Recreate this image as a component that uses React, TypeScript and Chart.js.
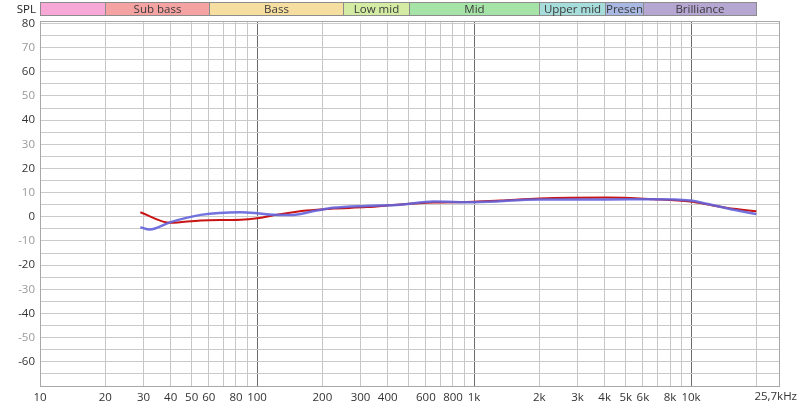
import React, { useEffect, useRef } from 'react';
import { Chart, registerables } from 'chart.js';
Chart.register(...registerables);

// Frequency response data (Hz, dB SPL)
const redFreq = [29, 40, 55, 84, 100, 128, 169, 224, 320, 456, 650, 1000, 1320, 2000, 4100, 6700, 9900, 12600, 15700, 20000];
const redSpl = [1.9, -2.5, -1.5, -1.2, -0.6, 1.1, 2.6, 3.4, 4.0, 5.1, 5.9, 6.2, 6.7, 7.6, 8.0, 7.3, 6.3, 4.7, 3.3, 2.3];
const blueFreq = [29, 32, 40, 55, 84, 100, 119, 142, 188, 224, 320, 456, 650, 1000, 2000, 4100, 6700, 9900, 11800, 15700, 20000];
const blueSpl = [-4.3, -5.3, -2.2, 0.8, 1.9, 1.5, 0.8, 0.7, 2.6, 3.7, 4.5, 5.0, 6.3, 6.0, 7.2, 7.2, 7.3, 6.7, 5.4, 2.9, 1.1];

// Axis definitions
const xMin = 10;
const xMax = 25700;
const xGridValues = [10, 20, 30, 40, 50, 60, 70, 80, 90, 100, 200, 300, 400, 500, 600, 700, 800, 900, 1000, 2000, 3000, 4000, 5000, 6000, 7000, 8000, 9000, 10000, 20000];
const xMajorValues = [100, 1000, 10000];
const xTickLabels: Record<number, string> = { 10: '10', 20: '20', 30: '30', 40: '40', 50: '50', 60: '60', 80: '80', 100: '100', 200: '200', 300: '300', 400: '400', 600: '600', 800: '800', 1000: '1k', 2000: '2k', 3000: '3k', 4000: '4k', 5000: '5k', 6000: '6k', 8000: '8k', 10000: '10k' };
const xEndLabel = '25,7kHz';
const yMin = -70;
const yMax = 81;
const yGridValues = [-65, -60, -55, -50, -45, -40, -35, -30, -25, -20, -15, -10, -5, 0, 5, 10, 15, 20, 25, 30, 35, 40, 45, 50, 55, 60, 65, 70, 75, 80];
const yDarkLabels = [80, 60, 40, 20, 0, -20, -40, -60];
const yLightLabels = [70, 50, 30, 10, -10, -30, -50];
const yAxisTitle = 'SPL';

// Frequency bands for header strip
const bandNames = ['', 'Sub bass', 'Bass', 'Low mid', 'Mid', 'Upper mid', 'Presen', 'Brilliance'];
const bandEdges = [10, 20, 60, 250, 500, 2000, 4000, 6000, 20000];
const bandColors = ['#f7a8d6', '#f4a3a2', '#f6dea0', '#d3eba2', '#a6e3a6', '#a6dcda', '#a8b8e2', '#b6a6d2'];

const FONT = '"Open Sans", "DejaVu Sans", sans-serif';
const FONT_SIZE = 11.5;

const overlayPlugin = {
  id: 'overlay',
  beforeDatasetsDraw(chart: any) {
    const { ctx, chartArea } = chart;
    ctx.save();
    ctx.strokeStyle = '#a8a8a8';
    ctx.lineWidth = 1;
    ctx.strokeRect(Math.round(chartArea.left) + 0.5, Math.round(chartArea.top) + 0.5, Math.round(chartArea.right - chartArea.left) - 1, Math.round(chartArea.bottom - chartArea.top));
    ctx.restore();
  },
  afterDraw(chart: any) {
    const { ctx, chartArea } = chart;
    const xs = chart.scales.x;
    ctx.save();
    const top = 2.5;
    const h = 13;
    ctx.font = `${FONT_SIZE}px ${FONT}`;
    ctx.textAlign = 'center';
    ctx.textBaseline = 'middle';
    for (let i = 0; i < bandNames.length; i++) {
      const x0 = Math.round(xs.getPixelForValue(bandEdges[i])) + 0.5;
      const x1 = Math.round(xs.getPixelForValue(bandEdges[i + 1])) + 0.5;
      ctx.fillStyle = bandColors[i];
      ctx.fillRect(x0, top, x1 - x0, h);
      ctx.strokeStyle = '#8c8c8c';
      ctx.lineWidth = 1;
      ctx.strokeRect(x0, top, x1 - x0, h);
      if (bandNames[i]) {
        ctx.fillStyle = '#3a3a3a';
        ctx.fillText(bandNames[i], (x0 + x1) / 2, top + h / 2 + 0.5);
      }
    }
    ctx.fillStyle = '#222';
    ctx.textAlign = 'right';
    ctx.fillText(yAxisTitle, chartArea.left - 4, top + h / 2 + 0.5);
    ctx.textAlign = 'right';
    ctx.textBaseline = 'top';
    ctx.fillStyle = '#333';
    ctx.fillText(xEndLabel, xs.getPixelForValue(xMax) + 17, chartArea.bottom + 5);
    ctx.restore();
  },
};

export default function App() {
  const ref = useRef<HTMLCanvasElement | null>(null);
  useEffect(() => {
    document.body.style.margin = '0';
    const canvas = ref.current;
    if (!canvas) return;
    Chart.defaults.font.family = FONT;
    Chart.defaults.font.size = FONT_SIZE;
    const chart = new Chart(canvas, {
      type: 'line',
      data: {
        datasets: [
          {
            label: 'B',
            data: blueFreq.map((f, i) => ({ x: f, y: blueSpl[i] })),
            borderColor: 'rgba(100, 100, 220, 0.9)',
            borderWidth: 2.5,
            pointRadius: 0,
            cubicInterpolationMode: 'monotone',
            fill: false,
          },
          {
            label: 'A',
            data: redFreq.map((f, i) => ({ x: f, y: redSpl[i] })),
            borderColor: '#c81414',
            borderWidth: 2,
            pointRadius: 0,
            cubicInterpolationMode: 'monotone',
            fill: false,
          },
        ],
      },
      options: {
        animation: false,
        responsive: false,
        events: [],
        layout: { padding: { left: 0, right: 20, top: 21, bottom: 0 } },
        plugins: { legend: { display: false }, tooltip: { enabled: false } },
        scales: {
          x: {
            type: 'logarithmic',
            min: xMin,
            max: xMax,
            afterBuildTicks: (scale: any) => {
              scale.ticks = xGridValues.map((v) => ({ value: v }));
            },
            afterFit: (scale: any) => {
              scale.height = 24;
            },
            border: { display: false },
            grid: {
              drawTicks: false,
              color: (ctx: any) => (xMajorValues.includes(ctx.tick?.value) ? '#6c6c6c' : '#c6c6c6'),
              lineWidth: 1,
            },
            ticks: {
              autoSkip: false,
              maxRotation: 0,
              padding: 5,
              color: '#333',
              callback: (v: any) => xTickLabels[v as number] ?? '',
            },
          },
          y: {
            min: yMin,
            max: yMax,
            afterBuildTicks: (scale: any) => {
              scale.ticks = yGridValues.map((v) => ({ value: v }));
            },
            afterFit: (scale: any) => {
              scale.width = 40;
            },
            border: { display: false },
            grid: { drawTicks: false, color: '#cacaca', lineWidth: 1 },
            ticks: {
              autoSkip: false,
              padding: 5,
              color: (ctx: any) => (yDarkLabels.includes(ctx.tick?.value) ? '#333' : '#9a9a9a'),
              callback: (v: any) => (yDarkLabels.includes(v) || yLightLabels.includes(v) ? String(v) : ''),
            },
          },
        },
      },
      plugins: [overlayPlugin],
    });
    return () => chart.destroy();
  }, []);
  return <canvas ref={ref} width={800} height={410} style={{ display: 'block' }} />;
}
